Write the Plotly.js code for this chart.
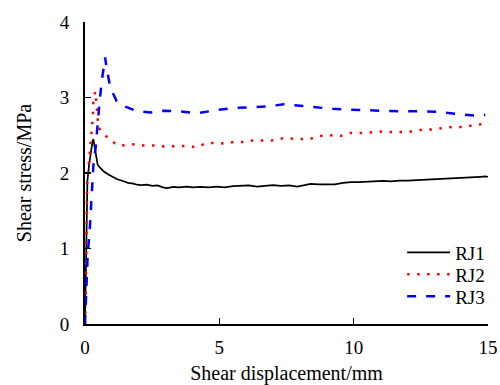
<!DOCTYPE html>
<html>
<head>
<meta charset="utf-8">
<script src="https://cdn.plot.ly/plotly-3.0.1.min.js"></script>
<style>html,body{margin:0;padding:0;background:#fff;}#chart{width:500px;height:385px;}</style>
</head>
<body>
<div id="chart"></div>
<script>
const seriesNames = ["RJ1", "RJ2", "RJ3"];
const xTickVals = [0, 5, 10, 15];
const yTickVals = [0, 1, 2, 3, 4];

const rj1X = [0,0.02,0.04,0.06,0.09,0.15,0.22,0.28,0.31,0.34,0.40,0.47,0.56,0.70,0.87,1.05,1.18,1.43,1.6,1.8,1.93,2.1,2.3,2.5,2.7,2.9,3.05,3.3,3.5,3.8,4.0,4.3,4.6,4.9,5.2,5.5,5.8,6.1,6.4,6.7,7.0,7.3,7.6,7.9,8.2,8.4,8.7,9.0,9.3,9.6,9.9,10.2,10.5,10.8,11.1,11.4,11.7,12.0,12.3,12.6,12.9,13.2,13.5,13.8,14.1,14.4,14.7,14.9,15.0];
const rj1Y = [0,0.5,1.0,1.5,1.9,2.1,2.3,2.42,2.45,2.38,2.26,2.11,2.07,2.02,1.98,1.95,1.92,1.89,1.87,1.86,1.845,1.84,1.845,1.83,1.835,1.81,1.80,1.815,1.81,1.82,1.81,1.815,1.81,1.82,1.81,1.825,1.83,1.835,1.82,1.835,1.84,1.83,1.835,1.82,1.84,1.855,1.85,1.855,1.85,1.87,1.88,1.88,1.885,1.89,1.895,1.89,1.90,1.90,1.905,1.91,1.915,1.915,1.92,1.93,1.935,1.94,1.95,1.955,1.95];

const rj2X = [0,0.03,0.04,0.05,0.06,0.08,0.13,0.17,0.22,0.26,0.29,0.31,0.38,0.42,0.46,0.5,0.81,1.12,1.3,1.75,2.18,2.6,3.02,3.43,3.8,4.13,4.49,4.84,5.18,5.54,5.87,6.24,6.63,6.94,7.37,7.8,8.11,8.36,8.71,9.07,9.5,9.87,10.25,10.71,11.08,11.5,11.85,12.15,12.47,12.65,13.0,13.45,13.65,14.11,14.54,14.96];
const rj2Y = [0,0.3,0.7,1.1,1.5,1.89,2.07,2.24,2.40,2.56,2.74,2.93,3.08,2.95,2.77,2.6,2.48,2.39,2.36,2.38,2.365,2.365,2.35,2.36,2.36,2.34,2.39,2.40,2.39,2.41,2.41,2.43,2.43,2.43,2.46,2.45,2.45,2.45,2.49,2.50,2.49,2.53,2.53,2.54,2.55,2.54,2.55,2.55,2.57,2.57,2.58,2.595,2.61,2.61,2.64,2.65];

const rj3X = [0,0.03,0.07,0.10,0.17,0.22,0.27,0.31,0.40,0.46,0.54,0.62,0.70,0.75,0.80,0.91,1.05,1.18,1.5,1.93,2.43,2.95,3.58,4.17,4.84,5.47,6.1,6.75,7.4,7.99,8.58,9.21,9.84,10.55,11.2,11.8,12.44,13.1,13.8,14.5,14.9];
const rj3Y = [0,0.35,0.63,0.92,1.21,1.49,1.78,2.09,2.35,2.64,2.93,3.21,3.45,3.53,3.40,3.19,3.05,2.95,2.88,2.82,2.80,2.825,2.815,2.79,2.83,2.86,2.87,2.88,2.91,2.89,2.87,2.85,2.84,2.83,2.82,2.815,2.82,2.81,2.785,2.76,2.77];

const font = "Liberation Serif, Times New Roman, serif";

const traces = [
  {x: rj1X, y: rj1Y, name: seriesNames[0], mode: "lines", legend: "legend", line: {color: "#000000", width: 1.7}},
  {x: rj2X, y: rj2Y, name: seriesNames[1], mode: "lines", legend: "legend2", line: {color: "#ff0000", width: 2.5, dash: "2.5px,7.5px"}},
  {x: rj3X, y: rj3Y, name: seriesNames[2], mode: "lines", legend: "legend3", line: {color: "#0000ff", width: 2.5, dash: "9px,10px"}}
];

const axisCommon = {
  showline: true, linecolor: "#000", linewidth: 2,
  ticks: "inside", ticklen: 6, tickwidth: 1.5, tickcolor: "#000",
  showgrid: false, zeroline: false,
  tickfont: {family: font, size: 19, color: "#000"}
};

function legendAt(y) {
  return {x: 0.785, y: y, xanchor: "left", yanchor: "middle", bgcolor: "rgba(0,0,0,0)",
    itemwidth: 43, font: {family: font, size: 19, color: "#000"}};
}

const layout = {
  width: 500, height: 385,
  margin: {l: 85, r: 11, t: 22, b: 61},
  paper_bgcolor: "#fff", plot_bgcolor: "#fff",
  font: {family: font, color: "#000"},
  showlegend: true,
  legend: legendAt(0.237),
  legend2: legendAt(0.164),
  legend3: legendAt(0.091),
  xaxis: Object.assign({}, axisCommon, {range: [0, 15], tickmode: "array", tickvals: xTickVals, ticklabelstandoff: 5,
    title: {text: "Shear displacement/mm", font: {family: font, size: 20, color: "#000"}, standoff: 12}}),
  yaxis: Object.assign({}, axisCommon, {range: [0, 4], tickmode: "array", tickvals: yTickVals, ticklabelstandoff: 10,
    title: {text: "Shear stress/MPa", font: {family: font, size: 20, color: "#000"}, standoff: 23}})
};

Plotly.newPlot("chart", traces, layout, {staticPlot: true, displayModeBar: false});
</script>
</body>
</html>
